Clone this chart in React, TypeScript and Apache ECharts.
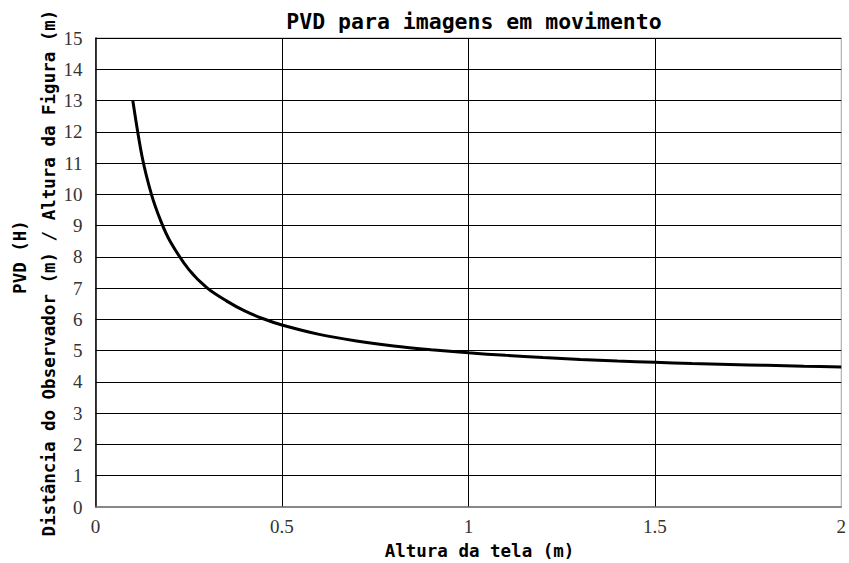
import React, { useEffect, useRef } from "react";
import * as echarts from "echarts";

const titleText = "PVD para imagens em movimento";
const xAxisTitle = "Altura da tela (m)";
const yAxisTitle1 = "PVD (H)";
const yAxisTitle2 = "Distância do Observador (m) / Altura da Figura (m)";

const screenHeights = [0.1, 0.125, 0.15, 0.175, 0.2, 0.25, 0.3, 0.35, 0.4, 0.45, 0.5, 0.6, 0.7, 0.8, 0.9, 1.0, 1.1, 1.2, 1.3, 1.4, 1.5, 1.6, 1.7, 1.8, 1.9, 2.0];
const pvdValues = [13.0, 11.2, 10.0, 9.15, 8.5, 7.6, 7.0, 6.6, 6.27, 6.02, 5.82, 5.52, 5.31, 5.15, 5.03, 4.93, 4.85, 4.78, 4.72, 4.67, 4.63, 4.59, 4.56, 4.53, 4.5, 4.48];

const MONO = "'DejaVu Sans Mono', monospace";
const SERIF = "'Liberation Serif', 'Times New Roman', serif";

export default function App() {
  const ref = useRef<HTMLDivElement>(null);
  useEffect(() => {
    if (!ref.current) return;
    const chart = echarts.init(ref.current, undefined, { renderer: "svg" });
    const data = screenHeights.map((x, i) => [x, pvdValues[i]]);
    chart.setOption({
      animation: false,
      backgroundColor: "#ffffff",
      title: {
        text: titleText,
        left: 469,
        top: 5,
        textAlign: "center",
        textStyle: { fontFamily: MONO, fontWeight: "bold", fontSize: 21.5, color: "#000" },
      },
      grid: {
        left: 95.5,
        right: 4,
        top: 38,
        bottom: 56,
        show: true,
        borderColor: "#a0a0a0",
        borderWidth: 1,
        backgroundColor: "transparent",
      },
      xAxis: {
        type: "value",
        min: 0,
        max: 2,
        interval: 0.5,
        axisLine: { show: true, lineStyle: { color: "#707070", width: 1.5 } },
        axisTick: { show: false },
        splitLine: { show: true, showMinLine: false, showMaxLine: false, lineStyle: { color: "#000", width: 1 } },
        axisLabel: {
          fontFamily: SERIF,
          fontSize: 19,
          color: "#333",
          margin: 10,
        },
      },
      yAxis: {
        type: "value",
        min: 0,
        max: 15,
        interval: 1,
        axisLine: { show: true, lineStyle: { color: "#000", width: 1.5 } },
        axisTick: { show: false },
        splitLine: { show: true, showMinLine: false, lineStyle: { color: "#000", width: 1 } },
        axisLabel: {
          fontFamily: SERIF,
          fontSize: 19,
          color: "#333",
          margin: 13,
        },
      },
      graphic: [
        {
          type: "text",
          x: 479.5,
          y: 551,
          style: {
            text: xAxisTitle,
            align: "center",
            verticalAlign: "middle",
            font: `bold 17.5px ${MONO}`,
            fill: "#000",
          },
        },
        {
          type: "text",
          x: 20,
          y: 257,
          rotation: Math.PI / 2,
          style: {
            text: yAxisTitle1,
            align: "center",
            verticalAlign: "middle",
            font: `bold 17.5px ${MONO}`,
            fill: "#000",
          },
        },
        {
          type: "text",
          x: 49,
          y: 273,
          rotation: Math.PI / 2,
          style: {
            text: yAxisTitle2,
            align: "center",
            verticalAlign: "middle",
            font: `bold 17.5px ${MONO}`,
            fill: "#000",
          },
        },
      ],
      series: [
        {
          type: "line",
          data,
          smooth: 0.3,
          symbol: "none",
          lineStyle: { color: "#000", width: 3 },
          z: 5,
        },
      ],
    });
    return () => chart.dispose();
  }, []);
  return (
    <div
      ref={ref}
      style={{ position: "fixed", left: 0, top: 0, width: 849, height: 563, background: "#fff" }}
    />
  );
}
